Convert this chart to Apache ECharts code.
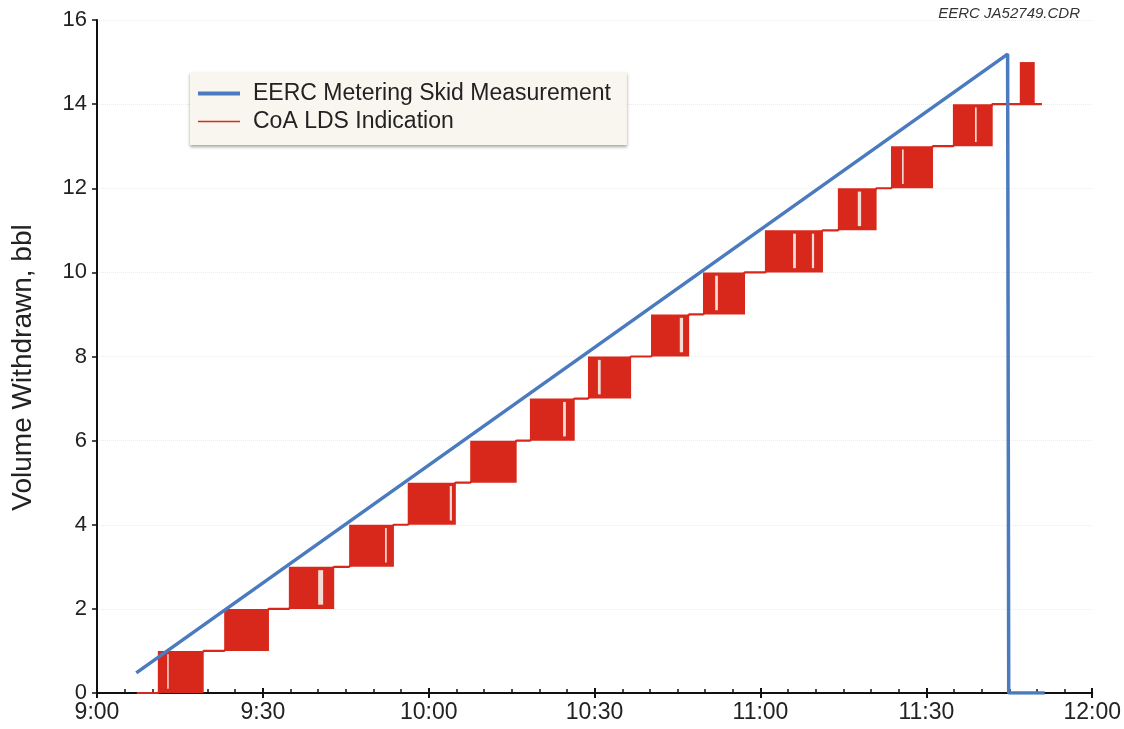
<!DOCTYPE html>
<html>
<head>
<meta charset="utf-8">
<script src="https://cdn.jsdelivr.net/npm/echarts@6/dist/echarts.min.js"></script>
<style>html,body{margin:0;padding:0;background:#fff;}#c{width:1124px;height:729px;}</style>
</head>
<body>
<div id="c"></div>
<script>
// time in minutes after 9:00
const xTickLabels = ['9:00', '9:30', '10:00', '10:30', '11:00', '11:30', '12:00'];
const yTickLabels = ['0', '2', '4', '6', '8', '10', '12', '14', '16'];

// EERC Metering Skid Measurement
const blueTime = [7.1, 164.7, 164.9, 171.4];
const blueValue = [0.48, 15.19, 0, 0];

// CoA LDS Indication (settled levels)
const redTime = [7.2, 11.0, 19.3, 23.0, 31.1, 34.7, 42.9, 45.6, 53.7, 56.2, 64.9, 67.5, 75.9, 78.3, 86.4, 88.8, 96.6, 100.2, 107.1, 109.6, 117.2, 120.8, 131.3, 134.0, 141.0, 143.6, 151.2, 154.8, 162.0, 164.6, 164.6, 164.6, 166.9, 169.6, 170.9];
const redValue = [0, 0, 1, 1, 2, 2, 3, 3, 4, 4, 5, 5, 6, 6, 7, 7, 8, 8, 9, 9, 10, 10, 11, 11, 12, 12, 13, 13, 14, 14, 15, 14, 14, 14, 14];

// CoA LDS oscillation windows (signal toggling between low and low+1)
const blockStart = [11.0, 23.0, 34.7, 45.6, 56.2, 67.5, 78.3, 88.8, 100.2, 109.6, 120.8, 134.0, 143.6, 154.8, 166.9];
const blockEnd = [19.3, 31.1, 42.9, 53.7, 64.9, 75.9, 86.4, 96.6, 107.1, 117.2, 131.3, 141.0, 151.2, 162.0, 169.6];
const blockLow = [0, 1, 2, 3, 4, 5, 6, 7, 8, 9, 10, 11, 12, 13, 14];

// short intervals inside windows where the signal stayed low
const gapStart = [12.7, 40.0, 52.1, 63.8, 84.3, 90.6, 105.4, 111.8, 125.9, 129.3, 137.6, 145.6, 158.8];
const gapEnd = [12.9, 40.9, 52.4, 64.2, 84.8, 91.1, 106.0, 112.3, 126.4, 129.7, 138.2, 145.9, 159.1];
const gapLow = [0, 2, 3, 4, 6, 7, 8, 9, 10, 10, 11, 12, 13];

const RED = '#d8281b';
const BLUE = '#4a7bbf';
const FONT = '"Liberation Sans", Arial, sans-serif';

const blueData = blueTime.map((t, i) => [t, blueValue[i]]);
const redData = redTime.map((t, i) => [t, redValue[i]]);
const blockData = blockStart.map((s, i) => [s, blockEnd[i], blockLow[i], blockLow[i] + 1]);
const gapData = gapStart.map((s, i) => [s, gapEnd[i], gapLow[i], gapLow[i] + 1]);

function rectItem(color, shrinkTop, shrinkBottom) {
  return function (params, api) {
    const p1 = api.coord([api.value(0), api.value(3)]);
    const p2 = api.coord([api.value(1), api.value(2)]);
    const h = p2[1] - p1[1];
    return {
      type: 'rect',
      shape: { x: p1[0], y: p1[1] + h * shrinkTop, width: Math.max(1.5, p2[0] - p1[0]), height: h * (1 - shrinkTop - shrinkBottom) },
      style: { fill: color }
    };
  };
}

const chart = echarts.init(document.getElementById('c'));
chart.setOption({
  animation: false,
  backgroundColor: '#ffffff',
  grid: { left: 97, right: 31, top: 20, bottom: 36, containLabel: false },
  graphic: [{
    type: 'text', right: 44, top: 6,
    style: { text: 'EERC JA52749.CDR', font: 'italic 15px ' + FONT, fill: '#333' }
  }],
  legend: {
    orient: 'vertical', left: 190, top: 72,
    padding: [10, 16, 12, 8],
    itemGap: 5,
    itemWidth: 42, itemHeight: 18,
    backgroundColor: '#f8f6ee',
    shadowColor: 'rgba(0,0,0,0.35)', shadowBlur: 3, shadowOffsetY: 2,
    textStyle: { fontSize: 23, color: '#222', fontFamily: FONT, padding: [0, 0, 0, 8] },
    data: [
      { name: 'EERC Metering Skid Measurement', icon: 'path://M0,8 L42,8 L42,12 L0,12 Z', itemStyle: { color: BLUE } },
      { name: 'CoA LDS Indication', icon: 'path://M0,9.2 L42,9.2 L42,10.8 L0,10.8 Z', itemStyle: { color: RED } }
    ]
  },
  xAxis: [{
    type: 'value', min: 0, max: 180, interval: 30,
    axisLine: { show: true, lineStyle: { color: '#111', width: 2 } },
    axisTick: { show: true, inside: true, length: 5, lineStyle: { color: '#111', width: 2 } },
    minorTick: { show: true, splitNumber: 6, length: 4, lineStyle: { color: '#111', width: 1.5 } },
    splitLine: { show: false },
    axisLabel: {
      margin: 8, fontSize: 23, color: '#222', fontFamily: FONT,
      formatter: v => xTickLabels[Math.round(v / 30)]
    }
  }, {
    type: 'value', min: 0, max: 180, interval: 30, position: 'bottom', offset: 0,
    axisLine: { show: false },
    axisTick: { show: true, inside: false, length: 5, lineStyle: { color: '#111', width: 2 } },
    axisLabel: { show: false }, splitLine: { show: false }
  }],
  yAxis: {
    type: 'value', min: 0, max: 16, interval: 2,
    name: 'Volume Withdrawn, bbl', nameLocation: 'middle', nameGap: 60,
    nameTextStyle: { fontSize: 28, color: '#222', fontFamily: FONT, padding: [0, 22, 0, 0] },
    axisLine: { show: true, lineStyle: { color: '#111', width: 2 } },
    axisTick: { show: true, length: 5, lineStyle: { color: '#111', width: 1.5 } },
    splitLine: { show: true, lineStyle: { color: '#ececec', type: 'dotted', width: 1 } },
    axisLabel: {
      margin: 10, fontSize: 22, color: '#222', fontFamily: FONT,
      formatter: v => yTickLabels[Math.round(v / 2)]
    }
  },
  series: [
    {
      name: 'CoA LDS Indication', type: 'line', data: redData, symbol: 'none',
      lineStyle: { color: RED, width: 2.2 }, itemStyle: { color: RED }, z: 3
    },
    {
      name: 'CoA LDS Indication', type: 'custom', data: blockData,
      renderItem: rectItem(RED, 0, 0), encode: { x: [0, 1], y: [2, 3] }, z: 3
    },
    {
      name: 'gaps', type: 'custom', data: gapData,
      renderItem: rectItem('#f3dcd6', 0.08, 0.1), encode: { x: [0, 1], y: [2, 3] }, z: 4
    },
    {
      name: 'EERC Metering Skid Measurement', type: 'line', data: blueData, symbol: 'none',
      lineStyle: { color: BLUE, width: 3.5 }, itemStyle: { color: BLUE }, z: 5
    }
  ]
});
</script>
</body>
</html>
